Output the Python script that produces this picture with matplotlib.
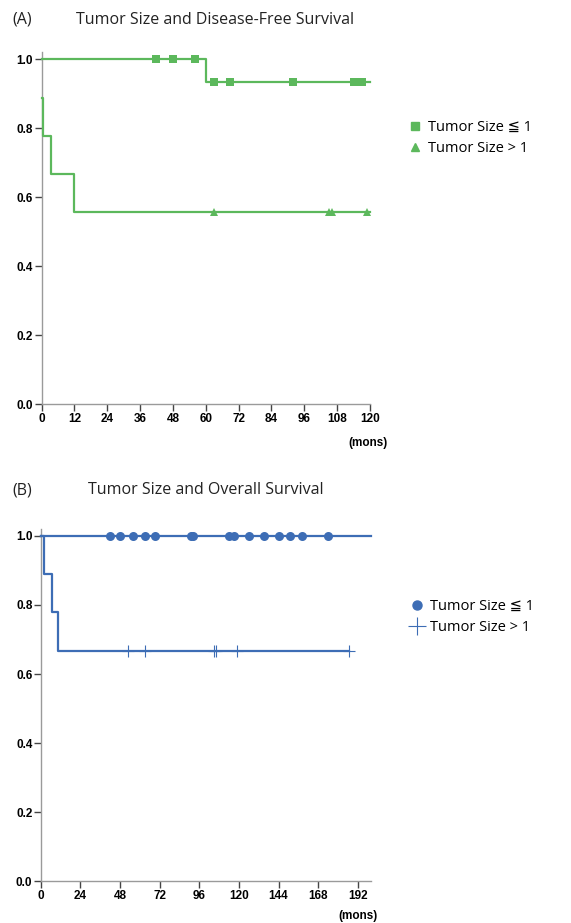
import numpy as np
import matplotlib
matplotlib.use('Agg')
import matplotlib.pyplot as plt
from matplotlib.lines import Line2D

plt.rcParams['font.family'] = ['Open Sans', 'DejaVu Sans']

# ---- (A) disease-free survival ----
dfs_small_t = [0, 60]
dfs_small_s = [1.0, 0.933]
dfs_small_end = 120
dfs_small_cens = [42, 48, 56, 63, 69, 92, 114, 117]

dfs_large_t = [0, 0.5, 3.5, 12]
dfs_large_s = [0.889, 0.778, 0.667, 0.556]
dfs_large_end = 120
dfs_large_cens = [63, 105, 106, 119]

# ---- (B) overall survival ----
os_small_t = [0]
os_small_s = [1.0]
os_small_end = 200
os_small_cens = [42, 48, 56, 63, 69, 91, 92, 114, 117, 126, 135, 144, 151, 158, 174]

os_large_t = [0, 1.8, 7, 10.2]
os_large_s = [1.0, 0.889, 0.778, 0.667]
os_large_end = 186.4
os_large_cens = [53, 63, 105, 106.3, 119, 186.4]

green = '#5cb85c'
blue = '#3d6db5'
tick_font = dict(family=['Liberation Sans Narrow', 'Liberation Sans', 'DejaVu Sans'],
                 weight='bold', size=8.5)


def step_curve(ax, t, s, end, cens, color, marker, ms, mew=0):
    tt = list(t) + [end]
    ss = list(s) + [s[-1]]
    ax.step(tt, ss, where='post', color=color, lw=1.6, clip_on=False, zorder=3)
    idx = np.searchsorted(t, cens, side='right') - 1
    cy = np.array(s)[idx]
    ax.plot(cens, cy, ls='none', marker=marker, ms=ms, color=color, mew=mew,
            clip_on=False, zorder=4)


def style_axes(ax, xmax, xticks):
    ax.set_xlim(0, xmax)
    ax.set_ylim(0, 1.02)
    ax.set_xticks(xticks)
    ax.set_yticks(np.arange(0, 1.01, 0.2))
    ax.set_yticklabels(['%.1f' % v for v in np.arange(0, 1.01, 0.2)])
    for sp in ['top', 'right']:
        ax.spines[sp].set_visible(False)
    for sp in ['left', 'bottom']:
        ax.spines[sp].set_color('#9a9a9a')
        ax.spines[sp].set_linewidth(1.0)
    ax.tick_params(length=5, width=1, color='#444444', pad=1)
    for lab in ax.get_xticklabels() + ax.get_yticklabels():
        lab.set_fontproperties(matplotlib.font_manager.FontProperties(**tick_font))


fig = plt.figure(figsize=(5.71, 9.23), dpi=100)

axA = fig.add_axes([0.0727, 0.5620, 0.5753, 0.3813])
step_curve(axA, dfs_small_t, dfs_small_s, dfs_small_end, dfs_small_cens, green, 's', 6)
step_curve(axA, dfs_large_t, dfs_large_s, dfs_large_end, dfs_large_cens, green, '^', 5.5)
style_axes(axA, 120, np.arange(0, 121, 12))
fig.text(12 / 571, 1 - 20 / 923, '(A)', fontsize=11.5, va='center', color='#222222')
fig.text(76 / 571, 1 - 20 / 923, 'Tumor Size and Disease-Free Survival', fontsize=11.5,
         va='center', color='#222222')
fig.text(368 / 571, 1 - 443 / 923, '(mons)', ha='center', va='center', **tick_font)
handlesA = [Line2D([], [], ls='none', marker='s', ms=6, color=green),
            Line2D([], [], ls='none', marker='^', ms=5.5, color=green)]
fig.legend(handlesA, ['Tumor Size ≦ 1', 'Tumor Size > 1'], loc='center left',
           bbox_to_anchor=(400 / 571, 1 - 138 / 923), frameon=False, fontsize=10.5,
           handlelength=1.0, handletextpad=0.4, labelspacing=0.4, borderpad=0)

axB = fig.add_axes([0.0713, 0.0450, 0.5785, 0.3821])
step_curve(axB, os_small_t, os_small_s, os_small_end, os_small_cens, blue, 'o', 6.5)
step_curve(axB, os_large_t, os_large_s, os_large_end, os_large_cens, blue, '+', 8, mew=0.8)
style_axes(axB, 200, np.arange(0, 193, 24))
fig.text(12 / 571, 1 - 490 / 923, '(B)', fontsize=11.5, va='center', color='#222222')
fig.text(88 / 571, 1 - 490 / 923, 'Tumor Size and Overall Survival', fontsize=11.5,
         va='center', color='#222222')
fig.text(358 / 571, 1 - 916 / 923, '(mons)', ha='center', va='center', **tick_font)
handlesB = [Line2D([], [], ls='none', marker='o', ms=6.5, color=blue),
            Line2D([], [], ls='none', marker='+', ms=13, mew=0.8, color=blue)]
fig.legend(handlesB, ['Tumor Size ≦ 1', 'Tumor Size > 1'], loc='center left',
           bbox_to_anchor=(402 / 571, 1 - 617 / 923), frameon=False, fontsize=10.5,
           handlelength=1.0, handletextpad=0.4, labelspacing=0.4, borderpad=0)

fig.savefig('out.png', dpi=100)
